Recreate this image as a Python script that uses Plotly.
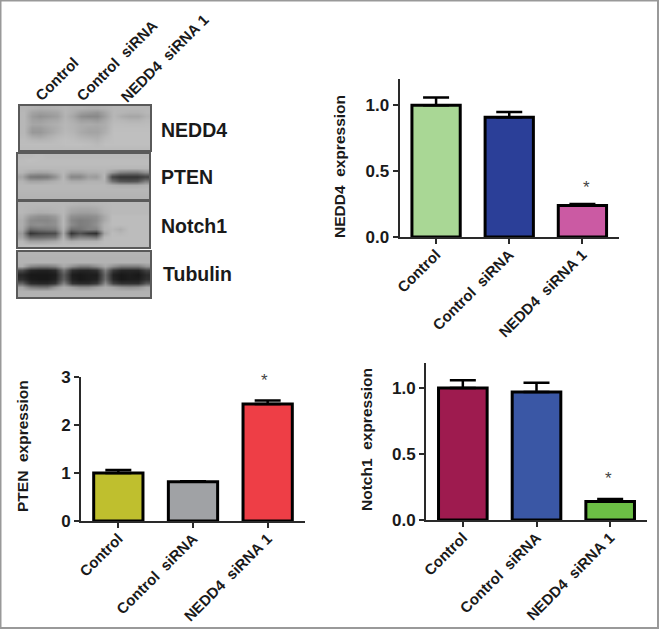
import plotly.graph_objects as go

W, H = 659, 630
categories = ["Control", "Control\u00a0\u00a0siRNA", "NEDD4\u00a0\u00a0siRNA\u00a01"]

nedd4_values = [1.0, 0.91, 0.24]
nedd4_errors = [0.06, 0.04, 0.01]
nedd4_colors = ["#A9D795", "#2B3F98", "#CB5AA3"]
nedd4_ticks = [0, 0.5, 1.0]
nedd4_ticktext = ["0.0", "0.5", "1.0"]

pten_values = [1.0, 0.82, 2.44]
pten_errors = [0.06, 0.01, 0.07]
pten_colors = ["#BFBF2E", "#A0A2A5", "#EE3E46"]
pten_ticks = [0, 1, 2, 3]

notch_values = [1.0, 0.97, 0.14]
notch_errors = [0.06, 0.07, 0.02]
notch_colors = ["#9E1B4F", "#3A57A5", "#6CBF45"]
notch_ticks = [0, 0.5, 1.0]
notch_ticktext = ["0.0", "0.5", "1.0"]

blot_labels = ["NEDD4", "PTEN", "Notch1", "Tubulin"]

blot_nedd4 = [
    [188,185,182,183,185,188,185,185,182,182,185,190,190,190,190,190],
    [190,170,165,168,172,188,180,165,160,155,172,190,188,185,185,190],
    [190,162,152,158,165,186,172,148,142,142,165,190,178,172,172,185],
    [190,168,165,172,175,188,180,165,165,160,175,192,190,186,186,192],
    [190,172,172,178,182,190,185,178,178,175,180,195,195,194,194,195],
    [190,162,162,172,180,190,186,178,172,172,180,197,197,197,197,197],
    [190,158,158,170,182,192,188,176,170,170,182,198,198,198,198,198],
    [192,176,172,182,190,195,192,184,180,178,190,198,198,198,198,198],
    [195,190,188,190,195,198,196,192,190,186,195,198,198,198,198,198],
    [196,196,196,196,196,198,198,198,196,192,198,198,198,198,198,198],
    [194,194,194,194,194,194,194,194,194,194,194,194,194,194,194,194],
]
blot_pten = [
    [192,192,195,192,192,192,192,192,192,192,192,192,192,192,192,192],
    [195,198,196,195,195,195,195,195,195,195,195,195,195,195,195,195],
    [195,195,195,195,195,195,195,195,195,195,195,195,195,195,195,195],
    [192,192,192,192,192,192,192,192,192,192,192,190,190,190,190,190],
    [188,175,170,172,182,190,175,175,182,182,188,160,135,130,130,150],
    [170,125,120,125,150,190,140,140,165,160,190,75,55,55,55,70],
    [186,170,170,175,182,190,178,178,184,184,185,120,90,85,90,130],
    [190,190,190,190,190,190,190,190,190,190,190,185,180,180,180,185],
    [190,190,190,190,190,190,190,190,190,190,190,190,190,190,190,190],
    [188,188,188,188,188,188,188,188,188,188,188,188,188,188,188,188],
    [186,186,186,186,186,186,186,186,186,186,186,186,186,186,186,186],
]
blot_notch = [
    [190,190,190,190,190,190,188,186,186,188,190,192,192,192,192,192],
    [190,188,186,186,188,190,178,175,175,178,188,192,192,192,192,192],
    [190,185,180,182,185,190,170,165,165,170,185,192,192,192,192,192],
    [185,160,150,150,160,190,150,145,145,150,175,195,195,195,195,195],
    [180,145,140,140,150,190,140,130,135,145,175,195,195,195,195,195],
    [180,145,150,145,150,190,145,130,135,150,185,195,195,195,195,195],
    [175,110,120,125,130,185,115,120,135,135,185,190,180,195,195,195],
    [160,55,70,75,80,175,55,85,60,50,170,195,190,195,195,195],
    [170,110,110,115,120,185,110,135,130,120,190,195,195,195,195,195],
    [190,165,165,170,175,192,180,185,185,185,195,195,195,195,195,195],
    [195,195,195,195,195,195,195,195,195,195,195,195,195,195,195,195],
]
blot_tubulin = [
    [188,188,188,188,188,188,188,188,188,188,188,188,188,188,188,188],
    [186,186,186,186,186,186,186,186,186,186,186,186,186,186,186,186],
    [186,186,186,186,186,186,186,186,186,186,186,186,186,186,186,186],
    [180,140,130,130,140,175,150,130,130,150,175,150,130,130,130,155],
    [80,40,35,35,45,120,50,40,40,50,130,60,40,40,40,70],
    [40,25,25,25,30,95,30,25,30,30,110,35,25,30,25,45],
    [50,28,25,25,35,100,35,25,30,35,115,40,25,30,30,50],
    [100,45,40,40,55,135,55,45,45,60,145,70,50,50,50,90],
    [170,130,120,120,155,180,165,150,150,165,180,170,155,150,155,175],
    [184,184,184,184,184,184,184,184,184,184,184,184,184,184,184,184],
    [186,186,186,186,186,186,186,186,186,186,186,186,186,186,186,186],
]

FONT = "Liberation Sans, Arial, sans-serif"
INK = "#1a1a1a"


def dx(a, b):
    return [a / W, b / W]


def dy(top, bottom):
    return [1 - bottom / H, 1 - top / H]


fig = go.Figure()
layout = dict(
    width=W, height=H, margin=dict(l=0, r=0, t=0, b=0, autoexpand=False), autosize=False,
    paper_bgcolor="white", plot_bgcolor="white", showlegend=False,
    bargap=0.3, font=dict(family=FONT, color=INK),
)
annotations = []
shapes = [dict(type="rect", xref="paper", yref="paper", x0=0.5 / W, x1=(W - 1) / W,
               y0=1 - (H - 2) / H, y1=1 - 0.5 / H,
               line=dict(color="#999999", width=2), fillcolor="rgba(0,0,0,0)")]


def bar_panel(n, values, errors, colors, xdom, ydom, yrange, ticks, ticktext):
    s = "" if n == 1 else str(n)
    fig.add_trace(go.Bar(
        x=categories, y=values, width=0.66, xaxis="x" + s, yaxis="y" + s,
        marker=dict(color=colors, line=dict(color="black", width=3)),
        error_y=dict(type="data", array=errors, arrayminus=[0, 0, 0], symmetric=False,
                     color="black", thickness=2.5, width=13),
    ))
    layout["xaxis" + s] = dict(
        domain=dx(*xdom), anchor="y" + s, type="category", range=[-0.5, 2.5],
        showline=True, linecolor="#2a2a2a", linewidth=2, ticks="outside", ticklen=5,
        tickwidth=2, tickcolor="#2a2a2a", tickangle=-45, showgrid=False,
        ticklabelstandoff=-4,
        tickfont=dict(size=15, family=FONT, color=INK, weight="bold"),
    )
    layout["yaxis" + s] = dict(
        domain=dy(*ydom), anchor="x" + s, range=yrange, showline=True,
        linecolor="#2a2a2a", linewidth=2, ticks="outside", ticklen=5, tickwidth=2,
        tickcolor="#2a2a2a", showgrid=False, zeroline=False, tickvals=ticks,
        ticktext=ticktext, tickfont=dict(size=17, family=FONT, color=INK, weight="bold"),
    )


bar_panel(1, nedd4_values, nedd4_errors, nedd4_colors, (399.5, 619), (79, 237), [0, 1.2],
          nedd4_ticks, nedd4_ticktext)
bar_panel(2, pten_values, pten_errors, pten_colors, (81, 305), (377, 521), [0, 3],
          pten_ticks, [str(t) for t in pten_ticks])
bar_panel(3, notch_values, notch_errors, notch_colors, (426, 647), (363, 520), [0, 1.19],
          notch_ticks, notch_ticktext)


def blot(n, z, xdom, ydom):
    s = str(n)
    fig.add_trace(go.Heatmap(
        z=z, xaxis="x" + s, yaxis="y" + s, zmin=0, zmax=265, zsmooth="best", showscale=False,
        colorscale=[[0, "black"], [1, "white"]],
    ))
    common = dict(showline=True, mirror=True, linecolor="#5a5a5a", linewidth=2,
                  showticklabels=False, ticks="", showgrid=False, zeroline=False)
    layout["xaxis" + s] = dict(domain=dx(*xdom), anchor="y" + s, range=[-0.5, 15.5], **common)
    layout["yaxis" + s] = dict(domain=dy(*ydom), anchor="x" + s, range=[10.5, -0.5], **common)


blot(4, blot_nedd4, (20, 150), (106, 150))
blot(5, blot_pten, (18, 149), (154, 199))
blot(6, blot_notch, (18, 149), (202, 247))
blot(7, blot_tubulin, (18, 150), (252, 297))


def text(x, y, t, size, angle=0, xanchor="center", yanchor="middle", weight="bold", color=INK):
    annotations.append(dict(
        x=x / W, y=1 - y / H, xref="paper", yref="paper", text=t, showarrow=False,
        textangle=angle, xanchor=xanchor, yanchor=yanchor, borderpad=0, borderwidth=0,
        font=dict(size=size, family=FONT, color=color, weight=weight),
    ))


for lab, xx, yy in zip(blot_labels, [161, 161, 161, 163], [130, 177, 226, 274]):
    text(xx, yy, lab, 19.5, xanchor="left")

text(56, 79, categories[0], 15, angle=-45)
text(117, 61, categories[1], 15, angle=-45)
text(164, 58, categories[2], 15, angle=-45)

text(340, 167, "NEDD4\u00a0\u00a0expression", 15.5, angle=-90)
text(22, 446, "PTEN\u00a0\u00a0expression", 15.5, angle=-90)
text(366, 440, "Notch1\u00a0\u00a0expression", 15.5, angle=-90)

text(586, 187, "*", 17, weight="normal", color="#444444")
text(264, 380, "*", 17, weight="normal", color="#444444")
text(608, 478, "*", 17, weight="normal", color="#444444")

layout["annotations"] = annotations
layout["shapes"] = shapes
fig.update_layout(**layout)
fig.write_html("out.html", config=dict(displayModeBar=False, responsive=False),
               post_script="document.body.style.margin='0';")
